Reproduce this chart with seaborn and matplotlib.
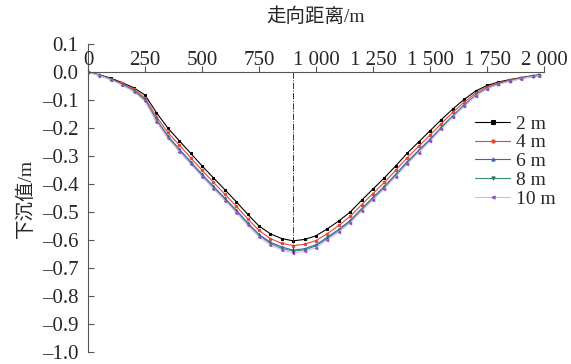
import numpy as np
import pandas as pd
import matplotlib
matplotlib.use("Agg")
import matplotlib.pyplot as plt
import matplotlib.ticker as mticker
import seaborn as sns

# ── Data ─────────────────────────────────────────────────────────────────────
distance = [0, 50, 100, 150, 200, 250, 300, 350, 400, 450, 500, 550, 600, 650,
            700, 750, 800, 850, 900, 950, 1000, 1050, 1100, 1150, 1200, 1250,
            1300, 1350, 1400, 1450, 1500, 1550, 1600, 1650, 1700, 1750, 1800,
            1850, 1900, 1950, 1980]

sub_2m = [0.000, -0.010, -0.022, -0.038, -0.056, -0.082, -0.145, -0.200, -0.245,
          -0.290, -0.335, -0.378, -0.420, -0.463, -0.508, -0.550, -0.578, -0.595,
          -0.603, -0.598, -0.585, -0.560, -0.532, -0.500, -0.458, -0.418, -0.378,
          -0.335, -0.290, -0.250, -0.210, -0.170, -0.132, -0.098, -0.068, -0.048,
          -0.036, -0.027, -0.020, -0.013, -0.010]
sub_4m = [0.000, -0.011, -0.024, -0.041, -0.061, -0.092, -0.159, -0.216, -0.261,
          -0.306, -0.351, -0.394, -0.436, -0.479, -0.524, -0.566, -0.595, -0.612,
          -0.620, -0.615, -0.602, -0.577, -0.548, -0.516, -0.474, -0.434, -0.394,
          -0.351, -0.306, -0.266, -0.226, -0.184, -0.144, -0.108, -0.075, -0.053,
          -0.039, -0.029, -0.021, -0.014, -0.011]
sub_6m = [0.000, -0.012, -0.026, -0.044, -0.065, -0.098, -0.169, -0.228, -0.275,
          -0.320, -0.365, -0.408, -0.450, -0.493, -0.538, -0.580, -0.608, -0.625,
          -0.636, -0.631, -0.617, -0.590, -0.562, -0.530, -0.488, -0.448, -0.408,
          -0.365, -0.320, -0.280, -0.240, -0.197, -0.156, -0.117, -0.082, -0.057,
          -0.042, -0.031, -0.023, -0.015, -0.012]
sub_8m = [0.000, -0.012, -0.027, -0.045, -0.067, -0.101, -0.173, -0.232, -0.279,
          -0.324, -0.369, -0.412, -0.454, -0.497, -0.542, -0.584, -0.612, -0.630,
          -0.640, -0.635, -0.621, -0.594, -0.566, -0.534, -0.492, -0.452, -0.412,
          -0.369, -0.324, -0.284, -0.244, -0.200, -0.159, -0.120, -0.084, -0.059,
          -0.043, -0.032, -0.023, -0.016, -0.012]
sub_10m = [-0.001, -0.013, -0.028, -0.047, -0.070, -0.105, -0.178, -0.237, -0.284,
           -0.329, -0.374, -0.417, -0.459, -0.502, -0.547, -0.589, -0.618, -0.636,
           -0.646, -0.641, -0.627, -0.600, -0.571, -0.539, -0.497, -0.457, -0.417,
           -0.374, -0.329, -0.288, -0.248, -0.204, -0.162, -0.123, -0.086, -0.060,
           -0.044, -0.033, -0.024, -0.016, -0.013]

labels = ['2 m', '4 m', '6 m', '8 m', '10 m']
series = [sub_2m, sub_4m, sub_6m, sub_8m, sub_10m]
x_ticks = [0, 250, 500, 750, 1000, 1250, 1500, 1750, 2000]
x_ticklabels = ['0', '250', '500', '750', '1 000', '1 250', '1 500', '1 750', '2 000']
center_x = 900          # dash-dot centre line
center_depth = -0.65

# ── Style ────────────────────────────────────────────────────────────────────
sns.set_style('ticks')
plt.rcParams['font.family'] = ['Liberation Serif', 'Noto Sans CJK SC']
plt.rcParams['axes.unicode_minus'] = True

line_colors = ['#000000', '#e8452c', '#3a5fcd', '#3c8c7c', '#dcb8ea']
mk_colors = ['#000000', '#e8452c', '#3a5fcd', '#2f7a6a', '#9050c0']
markers = ['s', 'o', '^', 'v', '<']

df = pd.DataFrame({'distance': distance * len(series),
                   'subsidence': np.concatenate(series),
                   'width': np.repeat(labels, len(distance))})

fig = plt.figure(figsize=(5.71, 3.64), dpi=100)
ax = fig.add_axes([88 / 571, 12 / 364, 456 / 571, 308 / 364])

for lab, lc, mc, mk in zip(labels, line_colors, mk_colors, markers):
    sub = df[df['width'] == lab]
    sns.lineplot(data=sub, x='distance', y='subsidence', ax=ax, color=lc,
                 marker=mk, markersize=1.8, markerfacecolor=mc,
                 markeredgecolor=mc, linewidth=0.8, label=lab)

ax.plot([center_x, center_x], [0, center_depth], color='#333333',
        linestyle='-.', linewidth=0.7)

ax.set_xlim(0, 2000)
ax.set_ylim(-1.0, 0.1)

# x axis sits on y = 0, labels drawn above it
ax.spines['top'].set_visible(False)
ax.spines['right'].set_visible(False)
ax.spines['bottom'].set_position(('data', 0))
ax.spines['bottom'].set_color('#555555')
ax.spines['left'].set_color('#555555')
ax.xaxis.set_ticks_position('bottom')
ax.tick_params(axis='x', bottom=True, top=False, labelbottom=False,
               labeltop=False, direction='in', length=4, color='#555555')
ax.set_xticks(x_ticks)
for xv, txt in zip(x_ticks, x_ticklabels):
    ax.text(xv, 0.006, txt, ha='center', va='bottom', fontsize=15)

ax.yaxis.set_major_locator(mticker.MultipleLocator(0.1))
ax.yaxis.set_major_formatter(mticker.FuncFormatter(
    lambda v, p: f'{v:.1f}'.replace('-', '\u2013')))
ax.tick_params(axis='y', direction='in', length=4, pad=7, labelsize=15,
               color='#555555')

ax.set_xlabel('')
ax.set_ylabel('下沉值/m', fontsize=14, labelpad=5)
fig.text(316 / 571, 1 - 17 / 364, '走向距离/m', ha='center', va='center',
         fontsize=14)

leg = ax.legend(loc='upper left', bbox_to_anchor=(475 / 571, 1 - 115 / 364),
                bbox_transform=fig.transFigure, frameon=False, fontsize=14,
                handlelength=1.8, handletextpad=0.3, labelspacing=0.06,
                borderpad=0, borderaxespad=0, markerscale=1.3)

fig.savefig('out.png', dpi=100, facecolor='white')
